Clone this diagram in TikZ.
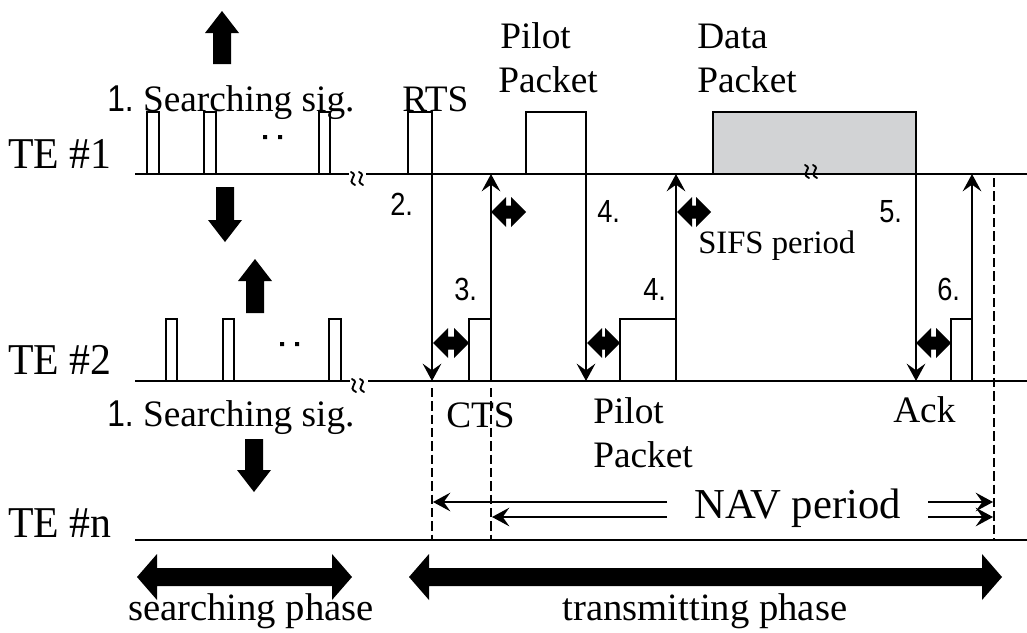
\documentclass[tikz,border=0pt]{standalone}
\usepackage{fontspec}
\setmainfont{Liberation Serif}
\newfontfamily\sansf{Liberation Sans}
\usepackage{graphicx}
\usetikzlibrary{arrows.meta}
\definecolor{datagray}{RGB}{210,211,213}
\newcommand\cnd[1]{\scalebox{0.85}[1]{#1}}
% horizontal fat double arrow: x1 x2 y shafthalf headhalf headlen
\newcommand\fatH[6]{\fill (#1,#3) -- ({#1+#6},{#3-#5}) -- ({#1+#6},{#3-#4}) -- ({#2-#6},{#3-#4}) -- ({#2-#6},{#3-#5}) -- (#2,#3) -- ({#2-#6},{#3+#5}) -- ({#2-#6},{#3+#4}) -- ({#1+#6},{#3+#4}) -- ({#1+#6},{#3+#5}) -- cycle;}
% vertical fat arrow: x ytail yheadbase ytip shafthalf headhalf
\newcommand\fatV[6]{\fill ({#1-#5},#2) -- ({#1-#5},#3) -- ({#1-#6},#3) -- (#1,#4) -- ({#1+#6},#3) -- ({#1+#5},#3) -- ({#1+#5},#2) -- cycle;}
% line-break squiggle (two wavy strokes)
\newcommand\squig[2]{\draw[line width=1.4pt,line cap=round] ({#1+1},{#2-1}) .. controls ({#1+10},{#2+3}) and ({#1-5},{#2+7}) .. ({#1+5},{#2+12});
\draw[line width=1.4pt,line cap=round] ({#1+9},{#2-1}) .. controls ({#1+18},{#2+3}) and ({#1+3},{#2+7}) .. ({#1+13},{#2+12});}
\begin{document}
\begin{tikzpicture}[x=0.75pt,y=-0.75pt,
  sigline/.style={line width=1.5pt},
  pulse/.style={line width=1.1pt},
  msg/.style={line width=1.1pt,-{Stealth[length=13pt,width=14pt,inset=5pt]}},
  guide/.style={line width=1pt,dash pattern=on 7pt off 3pt},
  lbl/.style={inner sep=0pt,anchor=base west,font=\fontsize{28pt}{30pt}\selectfont},
  srch/.style={inner sep=0pt,anchor=base west,font=\fontsize{28pt}{30pt}\selectfont},
  big/.style={inner sep=0pt,anchor=base west,font=\fontsize{33pt}{35pt}\selectfont},
  phase/.style={inner sep=0pt,anchor=base,font=\fontsize{29pt}{31pt}\selectfont},
  num/.style={inner sep=0pt,anchor=base west,font=\sansf\fontsize{24pt}{26pt}\selectfont}]
\useasboundingbox (0,0) rectangle (1027,632);

% ---------- time lines ----------
\coordinate (l1a) at (135,174); \coordinate (l1b) at (349,174);
\coordinate (l1c) at (366,174); \coordinate (l1d) at (1027,174);
\coordinate (l2a) at (135,381); \coordinate (l2b) at (350,381);
\coordinate (l2c) at (368,381); \coordinate (l2d) at (1027,381);
\coordinate (lna) at (135,540); \coordinate (lnb) at (1027,540);
\draw[sigline] (l1a) -- (l1b);
\draw[sigline] (l1c) -- (l1d);
\draw[sigline] (l2a) -- (l2b);
\draw[sigline] (l2c) -- (l2d);
\draw[sigline] (lna) -- (lnb);
\squig{350}{173}
\squig{351}{380}

\node[big] (te1) at (8,168) {\scalebox{0.95}[1]{TE \#1}};
\node[big] (te2) at (8,374) {\scalebox{0.95}[1]{TE \#2}};
\node[big] (ten) at (8,537) {\scalebox{0.95}[1]{TE \#n}};

% ---------- searching phase pulses ----------
\draw[pulse] (147,174) rectangle (159,112);
\draw[pulse] (204,174) rectangle (216,112);
\draw[pulse] (319,174) rectangle (330,112);
\fill (263,135) rectangle (267,139) (278,135) rectangle (282,139);
\draw[pulse] (166,381) rectangle (177,319);
\draw[pulse] (223,381) rectangle (234,319);
\draw[pulse] (329,381) rectangle (341,319);
\fill (280,342) rectangle (284,346) (295,342) rectangle (299,346);

\node[srch] (s1) at (107,111) {{\sansf\cnd{1.}} Searching sig.};
\node[srch] (s2) at (107,426) {{\sansf\cnd{1.}} Searching sig.};

\fatV{222}{64}{33}{11}{9}{17}
\fatV{225}{187}{220}{242}{9}{17}
\fatV{255}{313}{281}{259}{9}{17}
\fatV{254}{439}{470}{492}{9}{17}

% ---------- transmitting phase pulses ----------
\draw[pulse] (408,174) rectangle (432,112);
\draw[pulse] (526,174) rectangle (586,112);
\draw[pulse,fill=datagray] (713,174) rectangle (916,112);
\draw[sigline] (713,174) -- (916,174);
\squig{804}{166}
\draw[pulse] (469,381) rectangle (491,319);
\draw[pulse] (620,381) rectangle (676,319);
\draw[pulse] (951,381) rectangle (972,319);

\node[lbl] (rts) at (402,111) {RTS};
\node[lbl] (pp1) at (500,48) {Pilot};
\node[lbl] (pp1b) at (498,92) {Packet};
\node[lbl] (dp1) at (697,48) {Data};
\node[lbl] (dp1b) at (697,92) {Packet};
\node[lbl] (cts) at (446,427) {CTS};
\node[lbl] (pp2) at (593,423) {Pilot};
\node[lbl] (pp2b) at (593,467) {Packet};
\node[lbl] (ack) at (893,422) {Ack};
\node[inner sep=0pt,anchor=base west,font=\fontsize{24.5pt}{26pt}\selectfont] (sifs) at (698,253) {SIFS period};

% ---------- message arrows ----------
\coordinate (m2s) at (432,174); \coordinate (m2e) at (432,381);
\coordinate (m3s) at (491,319); \coordinate (m3e) at (491,174);
\coordinate (m4s) at (586,174); \coordinate (m4e) at (586,381);
\coordinate (m4bs) at (676,319); \coordinate (m4be) at (676,174);
\coordinate (m5s) at (916,174); \coordinate (m5e) at (916,381);
\coordinate (m6s) at (972,319); \coordinate (m6e) at (972,174);
\draw[msg] (m2s) -- (m2e);
\draw[msg] (m3s) -- (m3e);
\draw[msg] (m4s) -- (m4e);
\draw[msg] (m4bs) -- (m4be);
\draw[msg] (m5s) -- (m5e);
\draw[msg] (m6s) -- (m6e);

\node[num] (n2) at (390,215) {\cnd{2.}};
\node[num] (n3) at (454,300) {\cnd{3.}};
\node[num] (n4) at (597,222) {\cnd{4.}};
\node[num] (n4b) at (643,300) {\cnd{4.}};
\node[num] (n5) at (879,222) {\cnd{5.}};
\node[num] (n6) at (937,300) {\cnd{6.}};

% SIFS fat arrows
\fatH{433}{469}{343}{6.5}{15}{15}
\fatH{491}{526}{212}{6.5}{15}{15}
\fatH{587}{620}{343}{6.5}{15}{15}
\fatH{677}{711}{212}{6.5}{15}{15}
\fatH{916}{951}{343}{6.5}{15}{15}

% ---------- NAV ----------
\coordinate (d1a) at (432,388); \coordinate (d1b) at (432,540);
\coordinate (d2a) at (491,388); \coordinate (d2b) at (491,540);
\coordinate (d3a) at (994,178); \coordinate (d3b) at (994,540);
\draw[guide] (d1a) -- (d1b);
\draw[guide] (d2a) -- (d2b);
\draw[guide] (d3a) -- (d3b);

\node[inner sep=0pt,anchor=base west,font=\fontsize{32pt}{34pt}\selectfont] (nav) at (694,518) {NAV period};
\coordinate (na1) at (667,502); \coordinate (na1e) at (433,502);
\coordinate (na2) at (667,517); \coordinate (na2e) at (492,517);
\coordinate (nb1) at (928,502); \coordinate (nb1e) at (993,502);
\coordinate (nb2) at (928,517); \coordinate (nb2e) at (993,517);
\draw[msg] (na1) -- (na1e);
\draw[msg] (na2) -- (na2e);
\draw[msg] (nb1) -- (nb1e);
\draw[msg] (nb2) -- (nb2e);

% ---------- phases ----------
\fatH{137}{352}{577}{9}{23}{20}
\fatH{409}{1002}{577}{9}{23}{20}
\node[phase] (sp) at (251,620) {searching phase};
\node[phase] (tp) at (705,620) {transmitting phase};
\end{tikzpicture}
\end{document}
